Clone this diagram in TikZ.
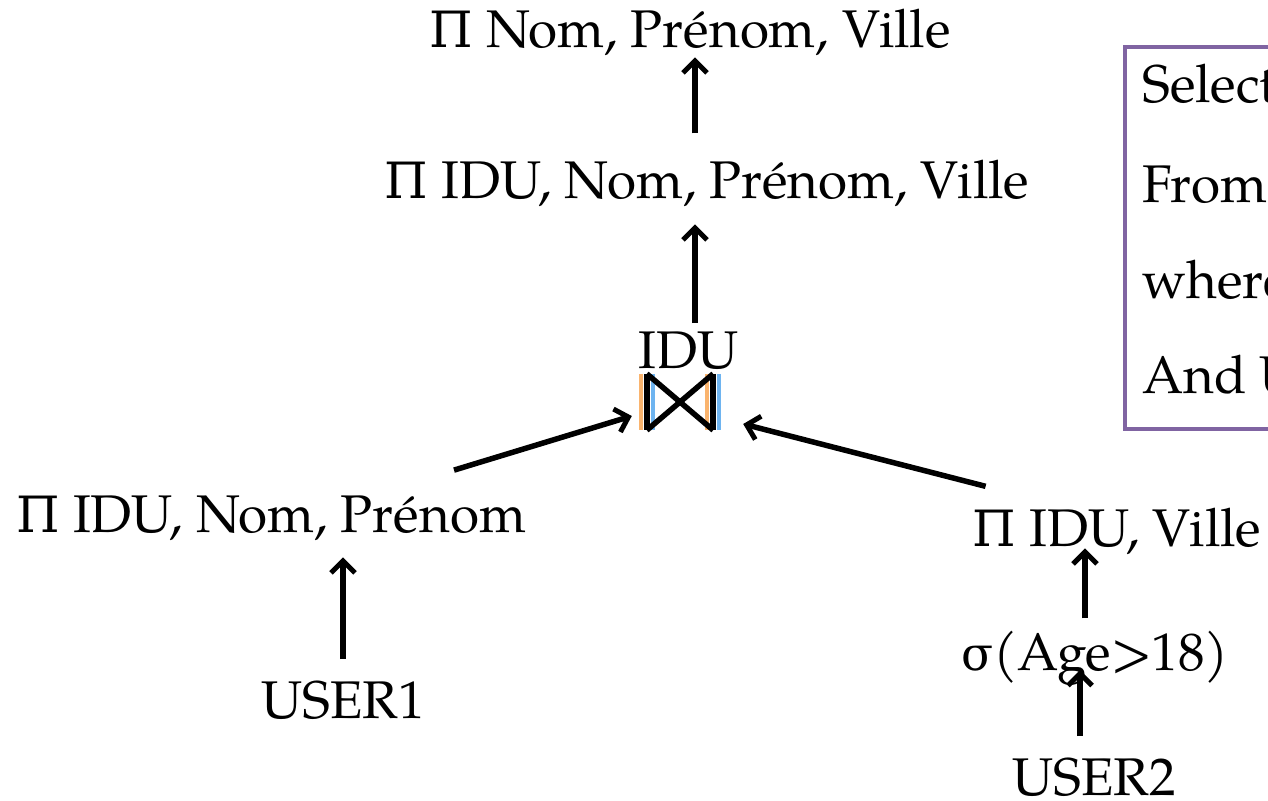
\documentclass[tikz,border=0pt]{standalone}
\usepackage{fontspec}
\setmainfont{TeX Gyre Pagella}
\newfontfamily\grk{DejaVu Serif}
\usetikzlibrary{arrows.meta}
\definecolor{boxpurple}{RGB}{128,100,162}
\definecolor{bworange}{RGB}{250,180,110}
\definecolor{bwblue}{RGB}{110,180,240}
\newcommand{\PI}{{\grk\fontsize{50}{60}\selectfont Π}}
\newcommand{\SIG}{{\grk\fontsize{47}{60}\selectfont σ}}
\tikzset{
  lbl/.style={font=\fontsize{53}{62}\selectfont, inner sep=0pt, anchor=base},
  arr/.style={-{Straight Barb[length=12pt,width=24pt,line width=5pt]}, line width=5.5pt},
  bwline/.style={line width=5.5pt},
}
\begin{document}
\begin{tikzpicture}[x=1pt,y=-1pt]
\useasboundingbox (0,0) rectangle (1268,800);
\clip (0,0) rectangle (1268,800);
% nodes
\node[lbl] (n1) at (690,48) {\PI\ Nom, Prénom, Ville};
\node[lbl] (n2) at (707,198) {\PI\ IDU, Nom, Prénom, Ville};
\node[lbl] (n3) at (689,368) {IDU};
\node[lbl] (n4) at (271,532) {\PI\ IDU, Nom, Prénom};
\node[lbl] (n5) at (1117,546) {\PI\ IDU, Ville};
\node[lbl] (n6) at (1095,670) {\SIG(Age>18)};
\node[lbl] (u1) at (343,718) {USER1};
\node[lbl] (u2) at (1094,795) {USER2};
% bowtie join
\node[minimum width=70pt, minimum height=56pt, inner sep=0pt] (bt) at (680,402) {};
\draw[bwblue,line width=4pt] ([xshift=8pt]bt.north west) -- ([xshift=8pt]bt.south west);
\draw[bworange,line width=4pt] ([xshift=-4pt]bt.north west) -- ([xshift=-4pt]bt.south west);
\draw[bworange,line width=4pt] ([xshift=-8pt]bt.north east) -- ([xshift=-8pt]bt.south east);
\draw[bwblue,line width=4pt] ([xshift=4pt]bt.north east) -- ([xshift=4pt]bt.south east);
\draw[bwline] ([xshift=2pt]bt.north west) -- ([xshift=2pt]bt.south west);
\draw[bwline] ([xshift=-2pt]bt.north east) -- ([xshift=-2pt]bt.south east);
\draw[bwline] ([xshift=2pt]bt.north west) -- ([xshift=-2pt]bt.south east);
\draw[bwline] ([xshift=2pt]bt.south west) -- ([xshift=-2pt]bt.north east);
% arrows
\draw[arr] ([xshift=-12pt,yshift=26pt]n2.north) -- ([xshift=5pt,yshift=-1pt]n1.south);
\draw[arr] ([xshift=6pt,yshift=8pt]n3.north) -- ([xshift=-12pt,yshift=-18pt]n2.south);
\draw[arr] ([xshift=-72pt,yshift=25pt]n4.north east) -- ([xshift=-13pt,yshift=-14pt]bt.west);
\draw[arr] ([xshift=13pt,yshift=21pt]n5.north west) -- ([xshift=28pt,yshift=-22pt]bt.east);
\draw[arr] ([yshift=21pt]u1.north) -- ([xshift=72pt,yshift=-17pt]n4.south);
\draw[arr] ([xshift=-10pt,yshift=12pt]n6.north) -- ([xshift=-32pt,yshift=6pt]n5.south);
\draw[arr] ([xshift=-14pt,yshift=21pt]u2.north) -- ([xshift=-15pt]n6.base);
% SQL box
\node[draw=boxpurple, line width=4pt, minimum width=250pt, minimum height=382pt, anchor=north west, inner sep=0pt] (sql) at (1123,45) {};
\node[lbl, anchor=base west] (s1) at (1142,102) {Select};
\node[lbl, anchor=base west] (s2) at (1142,202) {From};
\node[lbl, anchor=base west] (s3) at (1142,298) {where};
\node[lbl, anchor=base west] (s4) at (1142,393) {And U};
\end{tikzpicture}
\end{document}
